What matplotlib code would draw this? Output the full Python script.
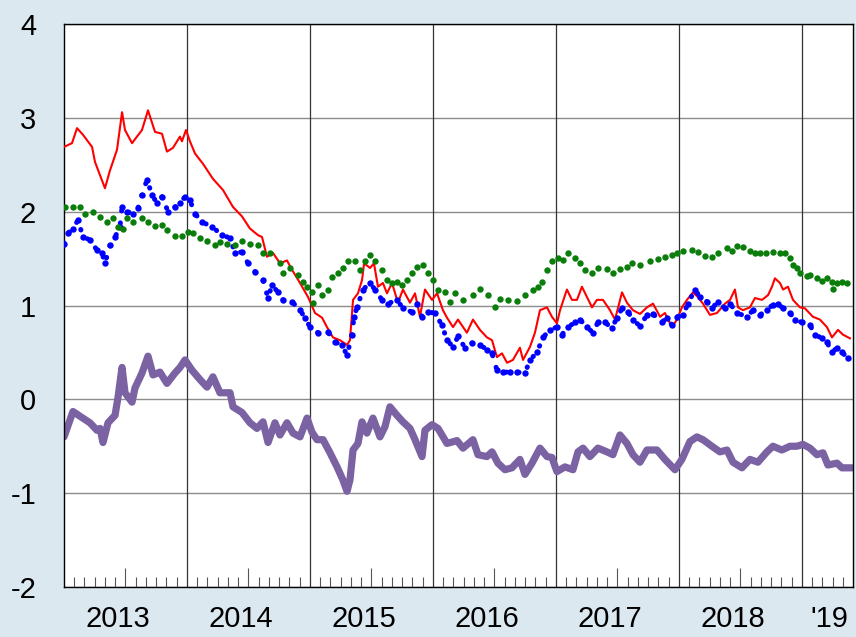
import numpy as np
import matplotlib.pyplot as plt

plt.rcParams['font.family'] = ['Liberation Sans', 'DejaVu Sans']

# ---- data (decimal years) ----
red_t = [2013.000, 2013.065, 2013.106, 2013.154, 2013.228, 2013.252, 2013.333, 2013.374, 2013.431, 2013.472,
         2013.496, 2013.553, 2013.593, 2013.634, 2013.683, 2013.740, 2013.797, 2013.837, 2013.886, 2013.943,
         2013.959, 2013.992,
         2014.024, 2014.065, 2014.130, 2014.211, 2014.293, 2014.374, 2014.447, 2014.512, 2014.577, 2014.610,
         2014.650, 2014.699, 2014.756, 2014.813, 2014.854, 2014.919, 2014.984,
         2015.041, 2015.098, 2015.138, 2015.187, 2015.244, 2015.301, 2015.325, 2015.350, 2015.390, 2015.423,
         2015.440, 2015.488, 2015.520, 2015.553, 2015.593, 2015.626, 2015.667, 2015.715, 2015.756, 2015.813,
         2015.854, 2015.894, 2015.935, 2015.992,
         2016.033, 2016.081, 2016.114, 2016.163, 2016.203, 2016.276, 2016.325, 2016.382, 2016.439, 2016.480,
         2016.520, 2016.561, 2016.602, 2016.650, 2016.707, 2016.732, 2016.789, 2016.829, 2016.870, 2016.927,
         2016.967,
         2017.008, 2017.033, 2017.089, 2017.130, 2017.171, 2017.211, 2017.252, 2017.293, 2017.333, 2017.382,
         2017.439, 2017.480, 2017.537, 2017.577, 2017.626, 2017.683, 2017.740, 2017.789, 2017.846, 2017.886,
         2017.943, 2017.984,
         2018.024, 2018.065, 2018.114, 2018.154, 2018.195, 2018.252, 2018.309, 2018.374, 2018.415, 2018.455,
         2018.480, 2018.520, 2018.577, 2018.618, 2018.675, 2018.724, 2018.756, 2018.780, 2018.821, 2018.846,
         2018.886, 2018.927, 2018.984,
         2019.024, 2019.089, 2019.146, 2019.203, 2019.244, 2019.293, 2019.333, 2019.390]
red_v = [2.69, 2.73, 2.89, 2.82, 2.69, 2.53, 2.25, 2.44, 2.66, 3.06,
         2.87, 2.73, 2.80, 2.87, 3.08, 2.85, 2.83, 2.64, 2.68, 2.80,
         2.75, 2.87,
         2.75, 2.62, 2.51, 2.35, 2.23, 2.05, 1.95, 1.82, 1.75, 1.73,
         1.52, 1.56, 1.45, 1.48, 1.38, 1.24, 1.09,
         0.92, 0.87, 0.77, 0.66, 0.63, 0.58, 0.63, 1.06, 1.13, 1.27,
         1.45, 1.40, 1.45, 1.20, 1.24, 1.13, 1.24, 1.03, 1.17, 1.03,
         1.13, 0.88, 1.17, 1.06,
         1.13, 0.95, 0.87, 0.77, 0.85, 0.71, 0.85, 0.74, 0.66, 0.63,
         0.45, 0.49, 0.39, 0.42, 0.55, 0.42, 0.56, 0.71, 0.95, 0.98,
         0.88,
         0.81, 0.95, 1.17, 1.06, 1.06, 1.20, 1.09, 0.98, 1.06, 1.06,
         0.95, 0.85, 1.14, 1.03, 0.95, 0.91, 0.98, 1.02, 0.88, 0.92,
         0.77, 0.85,
         0.98, 1.06, 1.14, 1.09, 1.02, 0.90, 0.92, 1.02, 1.06, 1.17,
         0.98, 0.95, 0.98, 1.08, 1.06, 1.11, 1.20, 1.29, 1.24, 1.17,
         1.20, 1.06, 0.98,
         0.97, 0.88, 0.85, 0.77, 0.66, 0.74, 0.69, 0.65]

blue_t = [2013.000, 2013.033, 2013.073, 2013.114, 2013.154, 2013.211, 2013.268, 2013.309, 2013.333, 2013.374,
          2013.415, 2013.455, 2013.472, 2013.512, 2013.561, 2013.602, 2013.634, 2013.675, 2013.715, 2013.756,
          2013.797, 2013.846, 2013.902, 2013.943, 2013.984,
          2014.024, 2014.065, 2014.122, 2014.203, 2014.285, 2014.350, 2014.390, 2014.447, 2014.496, 2014.553,
          2014.618, 2014.659, 2014.691, 2014.740, 2014.780, 2014.854, 2014.919, 2014.959,
          2015.000, 2015.065, 2015.146, 2015.203, 2015.260, 2015.301, 2015.341, 2015.358, 2015.382, 2015.431,
          2015.488, 2015.528, 2015.585, 2015.634, 2015.707, 2015.756, 2015.829, 2015.870, 2015.911, 2015.959,
          2016.016, 2016.073, 2016.114, 2016.163, 2016.203, 2016.260, 2016.317, 2016.382, 2016.439, 2016.480,
          2016.520, 2016.569, 2016.626, 2016.683, 2016.748, 2016.789, 2016.846, 2016.894, 2016.951,
          2017.008, 2017.049, 2017.098, 2017.154, 2017.195, 2017.252, 2017.301, 2017.341, 2017.398, 2017.455,
          2017.496, 2017.537, 2017.585, 2017.626, 2017.683, 2017.740, 2017.789, 2017.862, 2017.902, 2017.943,
          2017.984,
          2018.033, 2018.073, 2018.130, 2018.171, 2018.228, 2018.268, 2018.317, 2018.374, 2018.415, 2018.472,
          2018.553, 2018.602, 2018.659, 2018.715, 2018.764, 2018.805, 2018.846, 2018.902, 2018.943,
          2019.000, 2019.065, 2019.106, 2019.163, 2019.203, 2019.244, 2019.285, 2019.325, 2019.374]
blue_v = [1.66, 1.77, 1.82, 1.91, 1.73, 1.70, 1.59, 1.56, 1.45, 1.64,
          1.73, 1.84, 2.05, 2.00, 1.98, 2.04, 2.18, 2.34, 2.18, 2.09,
          2.16, 2.00, 2.05, 2.09, 2.16,
          2.12, 1.98, 1.89, 1.84, 1.75, 1.72, 1.56, 1.57, 1.45, 1.36,
          1.27, 1.08, 1.22, 1.14, 1.06, 1.04, 0.95, 0.87,
          0.77, 0.71, 0.72, 0.61, 0.58, 0.47, 0.69, 0.88, 0.98, 1.17,
          1.24, 1.17, 1.06, 1.02, 1.06, 0.97, 0.93, 1.02, 0.88, 0.93,
          0.92, 0.79, 0.63, 0.56, 0.67, 0.55, 0.60, 0.58, 0.53, 0.49,
          0.31, 0.29, 0.29, 0.29, 0.28, 0.42, 0.50, 0.66, 0.74,
          0.77, 0.69, 0.77, 0.82, 0.85, 0.77, 0.71, 0.82, 0.82, 0.76,
          0.87, 0.97, 0.93, 0.85, 0.78, 0.90, 0.91, 0.82, 0.87, 0.79,
          0.88,
          0.90, 1.02, 1.17, 1.09, 1.04, 0.97, 1.04, 0.97, 1.02, 0.92,
          0.88, 0.95, 0.90, 0.95, 1.01, 1.02, 0.97, 0.92, 0.85,
          0.82, 0.79, 0.69, 0.65, 0.61, 0.50, 0.55, 0.50, 0.44]

green_t = [2013.008, 2013.073, 2013.130, 2013.171, 2013.236, 2013.293, 2013.350, 2013.398, 2013.439, 2013.480,
           2013.512, 2013.561, 2013.634, 2013.683, 2013.740, 2013.797, 2013.837, 2013.902, 2013.959,
           2014.008, 2014.049, 2014.106, 2014.163, 2014.228, 2014.268, 2014.325, 2014.390, 2014.447, 2014.512,
           2014.577, 2014.618, 2014.675, 2014.756, 2014.780, 2014.837, 2014.902, 2014.943, 2014.976,
           2015.016, 2015.024, 2015.065, 2015.098, 2015.146, 2015.179, 2015.228, 2015.268, 2015.309, 2015.366,
           2015.407, 2015.447, 2015.488, 2015.528, 2015.585, 2015.626, 2015.667, 2015.707, 2015.748, 2015.789,
           2015.829, 2015.870, 2015.919, 2015.959,
           2016.000, 2016.041, 2016.098, 2016.138, 2016.179, 2016.244, 2016.325, 2016.382, 2016.447, 2016.504,
           2016.545, 2016.610, 2016.683, 2016.748, 2016.813, 2016.854, 2016.886, 2016.927, 2016.967,
           2017.016, 2017.057, 2017.098, 2017.154, 2017.195, 2017.236, 2017.293, 2017.341, 2017.415, 2017.463,
           2017.520, 2017.577, 2017.618, 2017.683, 2017.764, 2017.829, 2017.886, 2017.943, 2017.984,
           2018.033, 2018.106, 2018.154, 2018.211, 2018.268, 2018.317, 2018.390, 2018.431, 2018.472, 2018.520,
           2018.577, 2018.618, 2018.659, 2018.707, 2018.764, 2018.821, 2018.862, 2018.902, 2018.927, 2018.959,
           2018.984,
           2019.041, 2019.065, 2019.122, 2019.163, 2019.203, 2019.244, 2019.252, 2019.285, 2019.325, 2019.366]
green_v = [2.05, 2.05, 2.05, 1.98, 2.00, 1.94, 1.89, 1.93, 1.84, 1.82,
           1.93, 1.89, 1.93, 1.89, 1.85, 1.86, 1.80, 1.74, 1.74,
           1.78, 1.77, 1.72, 1.69, 1.64, 1.68, 1.66, 1.65, 1.69, 1.66,
           1.64, 1.56, 1.56, 1.45, 1.35, 1.40, 1.32, 1.25, 1.20,
           1.14, 1.03, 1.22, 1.11, 1.17, 1.30, 1.35, 1.40, 1.47, 1.47,
           1.38, 1.47, 1.54, 1.47, 1.38, 1.27, 1.24, 1.25, 1.22, 1.27,
           1.35, 1.41, 1.43, 1.35,
           1.27, 1.17, 1.14, 1.04, 1.13, 1.06, 1.11, 1.18, 1.11, 0.98,
           1.07, 1.06, 1.05, 1.11, 1.17, 1.20, 1.25, 1.38, 1.47,
           1.51, 1.49, 1.56, 1.51, 1.45, 1.38, 1.35, 1.40, 1.39, 1.35,
           1.39, 1.41, 1.45, 1.43, 1.47, 1.50, 1.52, 1.54, 1.56,
           1.58, 1.59, 1.57, 1.53, 1.52, 1.56, 1.61, 1.58, 1.63, 1.62,
           1.58, 1.56, 1.56, 1.56, 1.57, 1.56, 1.56, 1.51, 1.43, 1.40,
           1.35,
           1.31, 1.33, 1.29, 1.26, 1.29, 1.25, 1.18, 1.24, 1.25, 1.24]

purple_t = [2013.000, 2013.073, 2013.130, 2013.211, 2013.268, 2013.293, 2013.317, 2013.358, 2013.415, 2013.439,
            2013.472, 2013.496, 2013.553, 2013.577, 2013.634, 2013.683, 2013.724, 2013.780, 2013.837, 2013.902,
            2013.943, 2013.984,
            2014.041, 2014.106, 2014.163, 2014.211, 2014.268, 2014.350, 2014.374, 2014.447, 2014.512, 2014.569,
            2014.618, 2014.659, 2014.715, 2014.756, 2014.813, 2014.862, 2014.919, 2014.976,
            2015.016, 2015.057, 2015.106, 2015.163, 2015.220, 2015.268, 2015.301, 2015.325, 2015.350, 2015.390,
            2015.423, 2015.463, 2015.512, 2015.569, 2015.610, 2015.650, 2015.707, 2015.756, 2015.813, 2015.854,
            2015.911, 2015.935, 2015.992,
            2016.041, 2016.114, 2016.195, 2016.244, 2016.325, 2016.366, 2016.439, 2016.480, 2016.528, 2016.585,
            2016.642, 2016.707, 2016.748, 2016.805, 2016.870, 2016.927, 2016.967,
            2017.008, 2017.073, 2017.138, 2017.179, 2017.220, 2017.276, 2017.341, 2017.415, 2017.463, 2017.520,
            2017.577, 2017.626, 2017.683, 2017.740, 2017.821, 2017.886, 2017.967,
            2018.024, 2018.089, 2018.146, 2018.195, 2018.268, 2018.333, 2018.390, 2018.439, 2018.512, 2018.577,
            2018.642, 2018.715, 2018.764, 2018.837, 2018.902, 2018.959,
            2019.008, 2019.065, 2019.122, 2019.171, 2019.211, 2019.285, 2019.325, 2019.407]
purple_v = [-0.40, -0.13, -0.18, -0.25, -0.33, -0.31, -0.46, -0.25, -0.17, 0.02,
            0.34, 0.07, -0.03, 0.12, 0.28, 0.46, 0.26, 0.29, 0.17, 0.28,
            0.34, 0.42,
            0.31, 0.21, 0.13, 0.24, 0.07, 0.07, -0.08, -0.14, -0.25, -0.31,
            -0.24, -0.46, -0.25, -0.38, -0.25, -0.36, -0.40, -0.20,
            -0.35, -0.43, -0.43, -0.57, -0.72, -0.86, -0.98, -0.86, -0.54, -0.47,
            -0.24, -0.36, -0.20, -0.40, -0.29, -0.08, -0.17, -0.24, -0.31, -0.43,
            -0.61, -0.33, -0.27,
            -0.31, -0.47, -0.44, -0.52, -0.43, -0.59, -0.61, -0.56, -0.68, -0.75,
            -0.73, -0.64, -0.80, -0.68, -0.52, -0.61, -0.62,
            -0.77, -0.72, -0.75, -0.56, -0.52, -0.61, -0.52, -0.56, -0.59, -0.38,
            -0.47, -0.59, -0.67, -0.54, -0.54, -0.64, -0.75,
            -0.64, -0.45, -0.40, -0.43, -0.50, -0.56, -0.54, -0.67, -0.73, -0.64,
            -0.67, -0.56, -0.50, -0.54, -0.50, -0.50,
            -0.48, -0.52, -0.59, -0.57, -0.70, -0.68, -0.73, -0.73]

years = [2013, 2014, 2015, 2016, 2017, 2018, 2019]
year_labels = ['2013', '2014', '2015', '2016', '2017', '2018', "'19"]
yticks = [-2, -1, 0, 1, 2, 3, 4]
x_end = 2019.415

# ---- figure ----
fig = plt.figure(figsize=(8.56, 6.37), dpi=100, facecolor='#dce8f0')
ax = fig.add_axes([64/856, 1-587/637, (853-64)/856, (587-24)/637])
ax.set_facecolor('white')
ax.set_xlim(2013.0, x_end)
ax.set_ylim(-2, 4)

ax.set_yticks(yticks)
ax.set_yticklabels([str(v) for v in yticks])
ax.tick_params(axis='y', length=0, pad=20, labelsize=21)
ax.grid(axis='y', color='#8c8c8c', lw=1.0, zorder=0)
ax.set_axisbelow(True)

for yr in years[1:]:
    ax.axvline(yr, color='#333333', lw=0.9, zorder=1)

# tall ticks mid-year, short ticks each month
mid = [y + 0.5 for y in years[:-1]]
months = [y + m/12 for y in years for m in range(1, 12) if m != 6 and y + m/12 < x_end]
ax.set_xticks(mid)
ax.set_xticklabels([])
ax.set_xticks(months, minor=True)
ax.tick_params(axis='x', which='major', direction='in', length=14, width=0.8, color='#555555')
ax.tick_params(axis='x', which='minor', direction='in', length=7.5, width=0.8, color='#555555')

lab_x = [y + 0.44 for y in years[:-1]] + [2019.22]
for lx, lab in zip(lab_x, year_labels):
    ax.text(lx, -0.056, lab, transform=ax.get_xaxis_transform(), ha='center', va='center', fontsize=21)

for s in ax.spines.values():
    s.set_color('black')
    s.set_linewidth(1.0)

ax.plot(purple_t, purple_v, color='#7b62a3', lw=5.2, solid_joinstyle='round',
        solid_capstyle='round', zorder=2)
ax.plot(red_t, red_v, color='#ff0000', lw=1.5, zorder=3)
ax.plot(blue_t, blue_v, color='#0000ff', lw=3.6, linestyle=(0, (0.1, 2.4)),
        dash_capstyle='round', zorder=4)
ax.plot(blue_t, blue_v, 'o', color='#0000ff', ms=4.6, mec='none', zorder=4)
ax.plot(green_t, green_v, 'o', color='#0a7d0a', ms=4.6, mec='none', zorder=5)

fig.savefig('out.png', dpi=100, facecolor=fig.get_facecolor())
